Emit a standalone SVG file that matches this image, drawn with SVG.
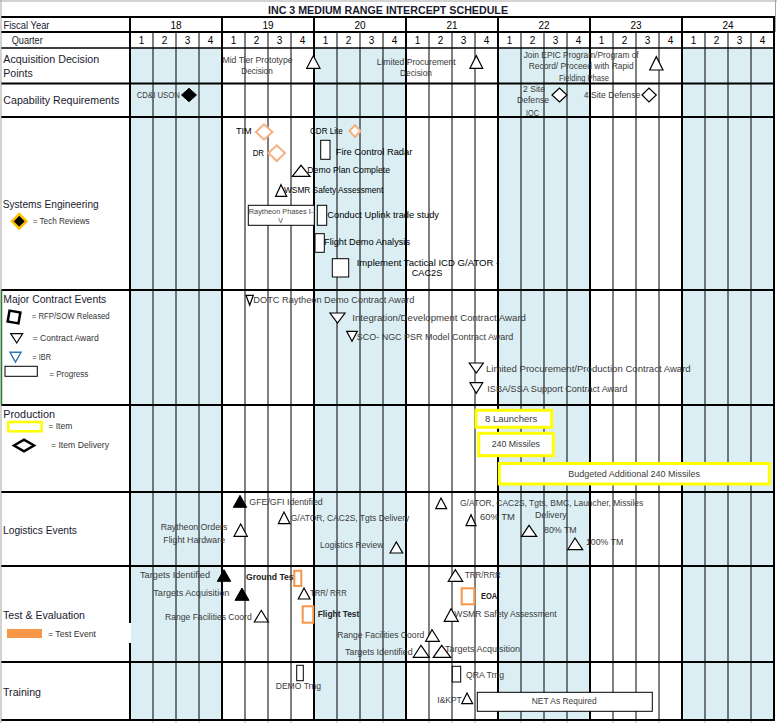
<svg xmlns="http://www.w3.org/2000/svg" width="777" height="723" viewBox="0 0 777 723">
<style>
text{font-family:"Liberation Sans",Arial,sans-serif}
.lb{font-size:10px;fill:#1a1a2e}
.lg{font-size:8.5px;fill:#333}
.hd{font-size:10px;fill:#000;text-anchor:middle}
.ev{font-size:9px;fill:#3a3a3a}
.se{font-size:9px;fill:#000}
.bd{font-weight:bold;fill:#222}
.sh{fill:#DAEEF3}
.tk{stroke:#000;stroke-width:2;fill:none}
.tn{stroke:#000;stroke-width:1;fill:none}
.tri{fill:#fff;stroke:#000;stroke-width:1.2}
.ft{fill:#000;stroke:#000;stroke-width:1}
.bx{fill:#fff;stroke:#000;stroke-width:1}
.pd{fill:#fff;stroke:#F4B183;stroke-width:2}
.ot{fill:#fff;stroke:#F79646;stroke-width:2}
.yl{fill:#fff;stroke:#FFFF00;stroke-width:3}
.dm{fill:#fff;stroke:#000;stroke-width:1.2}
</style>
<rect width="777" height="723" fill="#fff"/>
<g id="grid">
<rect class="sh" x="130" y="48" width="92" height="672"/>
<rect class="sh" x="314" y="48" width="92" height="672"/>
<rect class="sh" x="498" y="48" width="92" height="672"/>
<rect class="sh" x="682" y="48" width="92" height="672"/>
<path class="tn" d="M153 32V720M176 32V720M199 32V720M245 32V720M268 32V720M291 32V720M337 32V720M360 32V720M383 32V720M429 32V720M452 32V720M475 32V720M521 32V720M544 32V720M567 32V720M613 32V720M636 32V720M659 32V720M705 32V720M728 32V720M751 32V720"/>
<path class="tk" d="M1 17H775M1 32H775M1 83.5H775M1 117H775M1 290H775M1 405H775M1 492H775M1 566H775M1 662H775M1 720H775"/>
<path d="M1 48H775" stroke="#000" stroke-width="1.5"/>
<path class="tk" d="M130 17V720M222 17V720M314 17V720M406 17V720M498 17V720M590 17V720M682 17V720M774 17V720"/>
<path d="M1 0V723M0 1H777M775.5 0V32" stroke="#A6A6A6" stroke-width="1" fill="none"/>
<path d="M1.5 290V405" stroke="#2E7D32" stroke-width="1.5"/>
<path d="M153 721V723M176 721V723M199 721V723M245 721V723M268 721V723M291 721V723M337 721V723M360 721V723M383 721V723M429 721V723M452 721V723M475 721V723M521 721V723M544 721V723M567 721V723M613 721V723M636 721V723M659 721V723M705 721V723M728 721V723M751 721V723" stroke="#bbb"/>
<rect x="96" y="623" width="35" height="20" fill="#fff"/>
</g>
<g id="header">
<text x="268" y="14" font-size="10.5" font-weight="bold" fill="#1a1a2e" textLength="240" lengthAdjust="spacingAndGlyphs">INC 3 MEDIUM RANGE INTERCEPT SCHEDULE</text>
<text class="lb" x="3.5" y="29" textLength="46" lengthAdjust="spacingAndGlyphs">Fiscal Year</text>
<text class="lb" x="11.7" y="44" textLength="31" lengthAdjust="spacingAndGlyphs">Quarter</text>
<text class="hd" x="176" y="29">18</text><text class="hd" x="268" y="29">19</text><text class="hd" x="360" y="29">20</text><text class="hd" x="452" y="29">21</text><text class="hd" x="544" y="29">22</text><text class="hd" x="636" y="29">23</text><text class="hd" x="728" y="29">24</text>
<text class="hd" x="141.5" y="44">1</text><text class="hd" x="164.5" y="44">2</text><text class="hd" x="187.5" y="44">3</text><text class="hd" x="210.5" y="44">4</text>
<text class="hd" x="233.5" y="44">1</text><text class="hd" x="256.5" y="44">2</text><text class="hd" x="279.5" y="44">3</text><text class="hd" x="302.5" y="44">4</text>
<text class="hd" x="325.5" y="44">1</text><text class="hd" x="348.5" y="44">2</text><text class="hd" x="371.5" y="44">3</text><text class="hd" x="394.5" y="44">4</text>
<text class="hd" x="417.5" y="44">1</text><text class="hd" x="440.5" y="44">2</text><text class="hd" x="463.5" y="44">3</text><text class="hd" x="486.5" y="44">4</text>
<text class="hd" x="509.5" y="44">1</text><text class="hd" x="532.5" y="44">2</text><text class="hd" x="555.5" y="44">3</text><text class="hd" x="578.5" y="44">4</text>
<text class="hd" x="601.5" y="44">1</text><text class="hd" x="624.5" y="44">2</text><text class="hd" x="647.5" y="44">3</text><text class="hd" x="670.5" y="44">4</text>
<text class="hd" x="693.5" y="44">1</text><text class="hd" x="716.5" y="44">2</text><text class="hd" x="739.5" y="44">3</text><text class="hd" x="762.5" y="44">4</text>
</g>
<g id="acquisition">
<text class="lb" x="3.3" y="62.5" textLength="96" lengthAdjust="spacingAndGlyphs">Acquisition Decision</text>
<text class="lb" x="3.3" y="77" textLength="29.4" lengthAdjust="spacingAndGlyphs">Points</text>
<text class="ev" x="222.5" y="63" textLength="70" lengthAdjust="spacingAndGlyphs" font-size="8.5">Mid Tier Prototype</text>
<text class="ev" x="241.3" y="74" textLength="31.4" lengthAdjust="spacingAndGlyphs" font-size="8.5">Decision</text>
<polygon class="tri" points="306.7,68.3 313.3,55.7 320,68.3"/>
<text class="ev" x="376.7" y="64.5" textLength="79" lengthAdjust="spacingAndGlyphs" font-size="8.5">Limited Procurement</text>
<text class="ev" x="400" y="75.5" textLength="32" lengthAdjust="spacingAndGlyphs" font-size="8.5">Decision</text>
<polygon class="tri" points="470,68.3 476.3,55.7 482.7,68.3"/>
<text class="ev" x="523.7" y="57.5" textLength="115" lengthAdjust="spacingAndGlyphs" font-size="8.5">Join EPIC Program/Program of</text>
<text class="ev" x="528.7" y="69" textLength="105" lengthAdjust="spacingAndGlyphs" font-size="8.5">Record/ Proceed with Rapid</text>
<text class="ev" x="559" y="81" textLength="50" lengthAdjust="spacingAndGlyphs" font-size="8.5">Fielding Phase</text>
<polygon class="tri" points="649.7,70 656.3,56.7 663,70"/>
</g>
<g id="capability">
<text class="lb" x="3.3" y="104" textLength="116" lengthAdjust="spacingAndGlyphs">Capability Requirements</text>
<text class="ev" x="136.7" y="97.5" textLength="43.3" lengthAdjust="spacingAndGlyphs" font-size="8.5">CD&amp;I USON</text>
<polygon class="ft" points="181.5,95 189,88.3 196.5,95 189,101.7"/>
<text class="ev" x="523" y="91.8" textLength="22" lengthAdjust="spacingAndGlyphs" font-size="8.5">2 Site</text>
<text class="ev" x="517" y="103" textLength="32" lengthAdjust="spacingAndGlyphs" font-size="8.5">Defense</text>
<text class="ev" x="526" y="116" textLength="13" lengthAdjust="spacingAndGlyphs" font-size="8.5">IOC</text>
<polygon class="dm" points="552,95 559.5,88 567,95 559.5,102"/>
<text class="ev" x="583.7" y="98" textLength="56.6" lengthAdjust="spacingAndGlyphs" font-size="8.5">4 Site Defense</text>
<polygon class="dm" points="642,95 649,88 656.3,95 649,102"/>
</g>
<g id="systems-engineering">
<text class="lb" x="2.7" y="207.5" textLength="96" lengthAdjust="spacingAndGlyphs">Systems Engineering</text>
<polygon points="12,221.3 19.2,214 26.5,221.3 19.2,228.5" fill="#000" stroke="#FFC000" stroke-width="2.5"/>
<text class="lg" x="32.7" y="224" textLength="57" lengthAdjust="spacingAndGlyphs">= Tech Reviews</text>
<text class="se" x="236" y="133.5" textLength="15.7" lengthAdjust="spacingAndGlyphs">TIM</text>
<polygon class="pd" points="256,132 264,124.3 272.5,132 264,139.7"/>
<text class="se" x="310" y="134" textLength="32.7" lengthAdjust="spacingAndGlyphs">CDR Lite</text>
<polygon class="pd" points="349.5,131 355,125.3 360.5,131 355,137"/>
<text class="se" x="252.7" y="156" textLength="11.3" lengthAdjust="spacingAndGlyphs">DR</text>
<polygon class="pd" points="268.5,153 276.7,145.3 285,153 276.7,161"/>
<rect class="bx" x="320.7" y="140.3" width="9.3" height="19"/>
<text class="se" x="335.7" y="154.5" textLength="76.6" lengthAdjust="spacingAndGlyphs">Fire Control Radar</text>
<polygon class="tri" points="292.3,176.3 301,165.3 310,176.3"/>
<text class="se" x="307.3" y="172.5" textLength="82.7" lengthAdjust="spacingAndGlyphs">Demo Plan Complete</text>
<polygon class="tri" points="275.7,196.3 281,184.7 286.7,196.3"/>
<text class="se" x="284" y="193" textLength="99.3" lengthAdjust="spacingAndGlyphs">WSMR Safety Assessment</text>
<rect class="bx" x="248.3" y="205.3" width="66" height="20"/>
<text x="248.8" y="213.5" font-size="7" fill="#444" textLength="64.5" lengthAdjust="spacingAndGlyphs">Raytheon Phases I-</text>
<text x="280.7" y="223.2" font-size="7" fill="#444" text-anchor="middle">V</text>
<rect class="bx" x="317.3" y="205.3" width="9.4" height="20"/>
<text class="se" x="327.3" y="217.5" textLength="111.7" lengthAdjust="spacingAndGlyphs">Conduct Uplink trade study</text>
<rect class="bx" x="315" y="233.7" width="9.3" height="18.6"/>
<text class="se" x="324" y="245.3" textLength="86" lengthAdjust="spacingAndGlyphs">Flight Demo Analysis</text>
<rect class="bx" x="332.3" y="258.7" width="16.4" height="18.3"/>
<text class="se" x="356.7" y="266.3" textLength="142.6" lengthAdjust="spacingAndGlyphs">Implement Tactical ICD G/ATOR -</text>
<text class="se" x="411.7" y="276" textLength="30.6" lengthAdjust="spacingAndGlyphs">CAC2S</text>
</g>
<g id="major-contract-events">
<text class="lb" x="3.3" y="302.5" textLength="103" lengthAdjust="spacingAndGlyphs">Major Contract Events</text>
<rect x="8.5" y="311.5" width="11" height="11" fill="#fff" stroke="#000" stroke-width="2.5" transform="rotate(10 14 317)"/>
<text class="lg" x="31.7" y="319" textLength="78" lengthAdjust="spacingAndGlyphs">= RFP/SOW Released</text>
<polygon class="tri" points="10.7,333.7 22.7,333.7 16.7,343"/>
<text class="lg" x="32.7" y="341" textLength="66" lengthAdjust="spacingAndGlyphs">= Contract Award</text>
<polygon points="10,352.3 21,352.3 15.5,362" fill="#fff" stroke="#2E75B6" stroke-width="1.4"/>
<text class="lg" x="32.3" y="360" textLength="18.7" lengthAdjust="spacingAndGlyphs">= IBR</text>
<rect class="bx" x="5" y="366.3" width="32.3" height="10"/>
<text class="lg" x="49.3" y="377" textLength="39" lengthAdjust="spacingAndGlyphs">= Progress</text>
<polygon class="tri" points="246,295.3 253.3,295.3 249.7,305.3"/>
<text class="ev" x="253.3" y="303" textLength="161" lengthAdjust="spacingAndGlyphs">DOTC Raytheon Demo Contract Award</text>
<polygon class="tri" points="330,313 345,313 337.5,323"/>
<text class="ev" x="352.3" y="320.5" textLength="173.7" lengthAdjust="spacingAndGlyphs">Integration/Development Contract Award</text>
<polygon class="tri" points="346.7,331.3 357.3,331.3 352,341.3"/>
<text class="ev" x="356.7" y="340" textLength="156.6" lengthAdjust="spacingAndGlyphs">SCO- NGC PSR Model Contract Award</text>
<polygon class="tri" points="469.3,363 483.3,363 476.3,373"/>
<text class="ev" x="486" y="372" textLength="204.7" lengthAdjust="spacingAndGlyphs">Limited Procurement/Production Contract Award</text>
<polygon class="tri" points="470,382.7 482.7,382.7 476.3,393.3"/>
<text class="ev" x="487.3" y="392" textLength="140" lengthAdjust="spacingAndGlyphs">ISBA/SSA Support Contract Award</text>
</g>
<g id="production">
<text class="lb" x="3.3" y="417.5" textLength="51.7" lengthAdjust="spacingAndGlyphs">Production</text>
<rect x="8.3" y="422" width="33.4" height="9.3" fill="#fff" stroke="#FFFF00" stroke-width="2.5"/>
<text class="lg" x="48.3" y="429" textLength="24" lengthAdjust="spacingAndGlyphs">= Item</text>
<polygon points="14,445.5 24,439.7 34,445.5 24,451.3" fill="#fff" stroke="#000" stroke-width="2.5"/>
<text class="lg" x="51" y="448" textLength="58" lengthAdjust="spacingAndGlyphs">= Item Delivery</text>
<rect class="yl" x="476" y="410.3" width="75.7" height="17"/>
<text class="ev" x="485" y="422" fill="#222" textLength="52.3" lengthAdjust="spacingAndGlyphs">8 Launchers</text>
<rect class="yl" x="478.7" y="433.3" width="74.6" height="22.4"/>
<text class="ev" x="491.7" y="447" fill="#222" textLength="48.3" lengthAdjust="spacingAndGlyphs">240 Missiles</text>
<rect class="yl" x="499.3" y="463.5" width="270" height="20.5"/>
<text class="ev" x="568.3" y="477" fill="#222" textLength="131.7" lengthAdjust="spacingAndGlyphs">Budgeted Additional 240 Missiles</text>
</g>
<g id="logistics-events">
<text class="lb" x="3" y="533.5" textLength="74" lengthAdjust="spacingAndGlyphs">Logistics Events</text>
<polygon class="ft" points="233.3,507.3 240,495.3 246.7,507.3"/>
<text class="ev" x="249.3" y="504.5" textLength="73.4" lengthAdjust="spacingAndGlyphs">GFE/GFI Identified</text>
<polygon class="tri" points="278.3,523.7 284,512 290,523.7"/>
<text class="ev" x="290.7" y="521" textLength="118.6" lengthAdjust="spacingAndGlyphs">G/ATOR, CAC2S, Tgts Delivery</text>
<text class="ev" x="160.7" y="530" textLength="66.6" lengthAdjust="spacingAndGlyphs">Raytheon Orders</text>
<text class="ev" x="163.3" y="542.7" textLength="61.7" lengthAdjust="spacingAndGlyphs">Flight Hardware</text>
<polygon class="tri" points="234,536.3 240.7,524 247.3,536.3"/>
<text class="ev" x="320" y="547.7" textLength="63.3" lengthAdjust="spacingAndGlyphs">Logistics Review</text>
<polygon class="tri" points="390,553 396.3,542 402.7,553"/>
<polygon class="tri" points="435.7,508.7 441,498 446.7,508.7"/>
<text class="ev" x="460" y="506" textLength="183.3" lengthAdjust="spacingAndGlyphs">G/ATOR, CAC2S, Tgts, BMC, Launcher, Missiles</text>
<text class="ev" x="535" y="517.7" textLength="31.7" lengthAdjust="spacingAndGlyphs">Delivery</text>
<polygon class="tri" points="466,525.7 471,514.7 476,525.7"/>
<text class="ev" x="480" y="520" textLength="35" lengthAdjust="spacingAndGlyphs">60% TM</text>
<polygon class="tri" points="521.7,536.3 529,525.3 536.7,536.3"/>
<text class="ev" x="544" y="533.3" textLength="32.7" lengthAdjust="spacingAndGlyphs">80% TM</text>
<polygon class="tri" points="567.7,549.7 575,538 582.7,549.7"/>
<text class="ev" x="586" y="545" textLength="37.3" lengthAdjust="spacingAndGlyphs">100% TM</text>
</g>
<g id="test-evaluation">
<text class="lb" x="3" y="618.5" textLength="82" lengthAdjust="spacingAndGlyphs">Test &amp; Evaluation</text>
<rect x="7" y="629" width="35" height="9" fill="#F79646"/>
<text class="lg" x="48" y="636.5" textLength="48" lengthAdjust="spacingAndGlyphs">= Test Event</text>
<text class="ev" x="140" y="578.3" textLength="70" lengthAdjust="spacingAndGlyphs">Targets Identified</text>
<polygon class="ft" points="217.3,581.3 224,569.7 230.7,581.3"/>
<text class="ev bd" x="246" y="580" textLength="50.5" lengthAdjust="spacingAndGlyphs">Ground Test</text>
<rect class="ot" x="294.3" y="570.7" width="7" height="15.3"/>
<text class="ev" x="153.3" y="596" textLength="76" lengthAdjust="spacingAndGlyphs">Targets Acquisition</text>
<polygon class="ft" points="235,600.3 242,588 249,600.3"/>
<polygon class="tri" points="298.3,599 304,588 310,599"/>
<text class="ev" x="310" y="596" textLength="36.7" lengthAdjust="spacingAndGlyphs">TRR/ RRR</text>
<text class="ev" x="165" y="620" textLength="86.7" lengthAdjust="spacingAndGlyphs">Range Facilities Coord</text>
<polygon class="tri" points="254.3,622 261.3,610.3 268.3,622"/>
<rect class="ot" x="302.7" y="606.3" width="10.6" height="16.4"/>
<text class="ev bd" x="317.7" y="617" textLength="41.6" lengthAdjust="spacingAndGlyphs">Flight Test</text>
<text class="ev" x="337.3" y="637.7" textLength="87" lengthAdjust="spacingAndGlyphs">Range Facilities Coord</text>
<polygon class="tri" points="425.7,641.3 432,629.7 439.3,641.3"/>
<text class="ev" x="345" y="655" textLength="67.7" lengthAdjust="spacingAndGlyphs">Targets Identified</text>
<polygon class="tri" points="413.3,657.3 421,645.3 429.3,657.3"/>
<polygon class="tri" points="433.3,657.3 441.7,645.3 450.7,657.3"/>
<text class="ev" x="445" y="651.7" textLength="75" lengthAdjust="spacingAndGlyphs">Targets Acquisition</text>
<polygon class="tri" points="448.3,581.3 455.3,569.7 462.7,581.3"/>
<text class="ev" x="465" y="578.3" textLength="35.7" lengthAdjust="spacingAndGlyphs">TRR/RRR</text>
<rect class="ot" x="461.7" y="588.3" width="12.6" height="16"/>
<text class="ev bd" x="481" y="599.3" textLength="16.3" lengthAdjust="spacingAndGlyphs">EOA</text>
<polygon class="tri" points="444.3,621.3 451,608.7 458.3,621.3"/>
<text class="ev" x="454.3" y="617" textLength="102.4" lengthAdjust="spacingAndGlyphs">WSMR Safety Assessment</text>
</g>
<g id="training">
<text class="lb" x="3" y="695.5" textLength="38" lengthAdjust="spacingAndGlyphs">Training</text>
<rect class="bx" x="296.7" y="665.3" width="6.6" height="15.4"/>
<text class="ev" x="275.7" y="689.3" textLength="45.3" lengthAdjust="spacingAndGlyphs">DEMO Trng</text>
<rect class="bx" x="452.3" y="666.3" width="8.4" height="15.7"/>
<text class="ev" x="466" y="677.7" textLength="38" lengthAdjust="spacingAndGlyphs">QRA Trng</text>
<text class="ev" x="437.3" y="703.3" textLength="24.4" lengthAdjust="spacingAndGlyphs">I&amp;KPT</text>
<polygon class="tri" points="461.7,703.7 467,693 472.7,703.7"/>
<rect class="bx" x="477.3" y="692.3" width="175" height="19"/>
<text class="ev" x="531.7" y="704.3" fill="#222" textLength="65" lengthAdjust="spacingAndGlyphs">NET As Required</text>
</g>
</svg>
